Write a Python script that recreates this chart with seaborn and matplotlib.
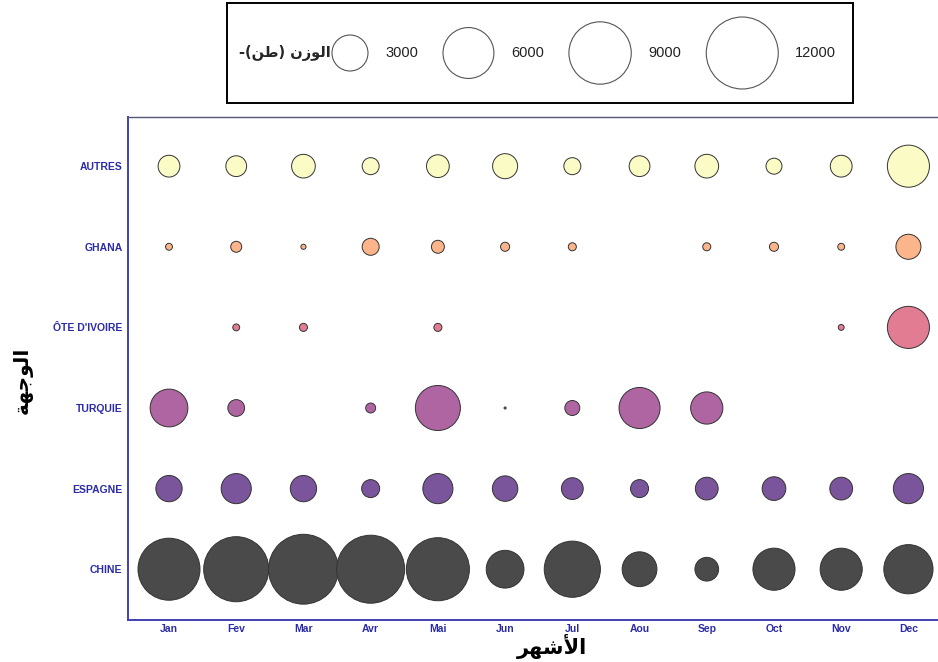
import pandas as pd
import seaborn as sns
import matplotlib.pyplot as plt
import numpy as np

# monthly shipments (tonnes) per destination
months = ["Jan", "Fev", "Mar", "Avr", "Mai", "Jun", "Jul", "Aou", "Sep", "Oct", "Nov", "Dec"]
destinations = ["CHINE", "ESPAGNE", "TURQUIE", "ÔTE D'IVOIRE", "GHANA", "AUTRES"]

chine = [8900, 9800, 11300, 10700, 9200, 3300, 7300, 2800, 1300, 4100, 4100, 5600]
espagne = [1600, 2100, 1600, 750, 2100, 1500, 1100, 750, 1200, 1300, 1200, 2100]
turquie = [3300, 650, 0, 230, 4700, 10, 520, 3900, 2400, 0, 0, 0]
cote_ivoire = [0, 110, 150, 0, 150, 0, 0, 0, 0, 0, 80, 4100]
ghana = [110, 280, 60, 670, 390, 190, 150, 0, 150, 190, 110, 1450]
autres = [1100, 1000, 1300, 670, 1200, 1450, 670, 1000, 1300, 590, 1100, 4100]

legend_sizes = [3000, 6000, 9000, 12000]

colors = ["#4a4a4a", "#7a559c", "#b065a3", "#e27c93", "#fcb48a", "#fbfbc6"]

series = [chine, espagne, turquie, cote_ivoire, ghana, autres]
rows = []
for dest, vals in zip(destinations, series):
    for m, v in zip(months, vals):
        if v > 0:
            rows.append({"mois": m, "destination": dest, "poids": v})
df = pd.DataFrame(rows)

# bubble area proportional to weight: 12000 t -> 72 px wide at 100 dpi
SMAX = (72 * 0.72) ** 2
NORM = (0, 12000)

sns.set_theme(style="white")
plt.rcParams["font.family"] = ["Liberation Sans", "DejaVu Sans"]

fig = plt.figure(figsize=(9.38, 6.62), dpi=100)
ax = fig.add_axes([128 / 938, 42 / 662, 810 / 938, 503 / 662])

sns.scatterplot(data=df, x="mois", y="destination", size="poids", sizes=(0, SMAX),
                size_norm=NORM, hue="destination", palette=dict(zip(destinations, colors)),
                hue_order=destinations, edgecolor="#333333", linewidth=0.7,
                alpha=1, legend=False, ax=ax)

ax.set_xlim(-0.61, 11.44)
ax.set_ylim(-0.63, 5.61)
ax.set_xticks(range(len(months)))
ax.set_xticklabels(months)
ax.set_yticks(range(len(destinations)))
ax.set_yticklabels(destinations)
blue = "#2b2ba8"
ax.tick_params(axis="both", length=0, labelsize=7.5, labelcolor=blue)
ax.tick_params(axis="x", pad=3)
ax.tick_params(axis="y", pad=4)
for lab in ax.get_xticklabels() + ax.get_yticklabels():
    lab.set_fontweight("bold")

for side in ["left", "bottom"]:
    ax.spines[side].set_color("#4040b8")
    ax.spines[side].set_linewidth(1.4)
ax.spines["top"].set_color("#55557a")
ax.spines["top"].set_linewidth(1.0)
ax.spines["right"].set_visible(False)

# arabic labels, pre-shaped and in visual order
ax.set_xlabel("\uFEAE\uFEEC\uFEB7\uFEF7\uFE8D", fontsize=15, fontweight="bold",
              color="black", family=["DejaVu Sans"], va="top")
ax.xaxis.set_label_coords((552 - 128) / 810, -0.027)
ax.set_ylabel("\uFE94\uFEEC\uFE9F\uFEEE\uFEDF\uFE8D", fontsize=14.5, fontweight="bold",
              color="black", family=["DejaVu Sans"])
ax.yaxis.set_label_coords(-0.118, 0.477)

# size legend box
lax = fig.add_axes([227 / 938, 559 / 662, 626 / 938, 100 / 662])
lax.set_xlim(0, 626)
lax.set_ylim(0, 100)
lax.set_xticks([])
lax.set_yticks([])
for sp in lax.spines.values():
    sp.set_color("black")
    sp.set_linewidth(1.4)

title = "-(" + "\uFEE6\uFEC3" + ") " + "\uFEE5\uFEAF\uFEEE\uFEDF\uFE8D"
lax.text(104, 50, title, ha="right", va="center", fontsize=10.5, fontweight="bold",
         family=["DejaVu Sans"])

cursor = 105
cx = []
for v in legend_sizes:
    d = 72 * np.sqrt(v / 12000)
    cx.append(cursor + d / 2)
    tl = cursor + d + 17
    lax.text(tl, 50, str(v), ha="left", va="center", fontsize=10.5, color="#222222")
    cursor = tl + (44 if v >= 10000 else 35) + 23

sns.scatterplot(x=cx, y=[50] * len(cx), size=legend_sizes, sizes=(0, SMAX), size_norm=NORM,
                color="white", edgecolor="#555555", linewidth=0.8, legend=False, ax=lax)
lax.set_xlim(0, 626)
lax.set_ylim(0, 100)

plt.savefig("out.png", dpi=100)
